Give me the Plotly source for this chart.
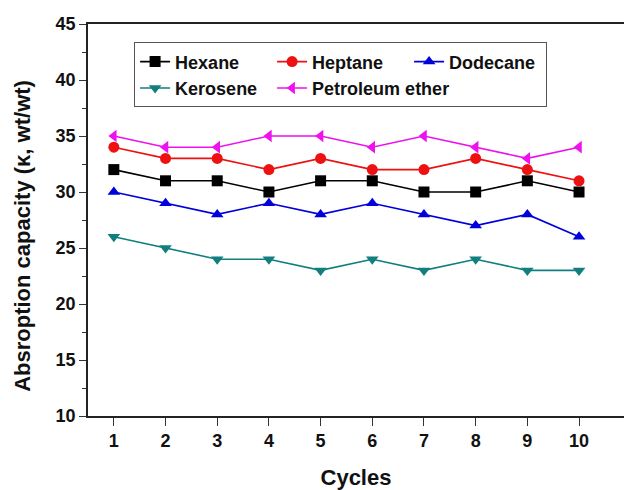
import plotly.graph_objects as go

cycles = [1, 2, 3, 4, 5, 6, 7, 8, 9, 10]
hexane = [32, 31, 31, 30, 31, 31, 30, 30, 31, 30]
heptane = [34, 33, 33, 32, 33, 32, 32, 33, 32, 31]
dodecane = [30, 29, 28, 29, 28, 29, 28, 27, 28, 26]
kerosene = [26, 25, 24, 24, 23, 24, 23, 24, 23, 23]
pet_ether = [35, 34, 34, 35, 35, 34, 35, 34, 33, 34]

series = [
    ("Hexane", hexane, "#000000", "square"),
    ("Heptane", heptane, "#ee1111", "circle"),
    ("Dodecane", dodecane, "#0000dd", "triangle-up"),
    ("Kerosene", kerosene, "#117f7f", "triangle-down"),
    ("Petroleum ether", pet_ether, "#ee11ee", "triangle-left"),
]

fig = go.Figure()
for name, vals, color, sym in series:
    fig.add_trace(go.Scatter(
        x=cycles, y=vals, name=name, mode="lines+markers",
        line=dict(color=color, width=1.6),
        marker=dict(symbol=sym, size=11, color=color),
    ))

font = "Liberation Sans, Arial, sans-serif"
fig.update_layout(
    width=624, height=490,
    margin=dict(l=88, r=0, t=24, b=74, autoexpand=False),
    plot_bgcolor="white", paper_bgcolor="white",
    font=dict(family=font, color="#111111"),
    showlegend=True,
    legend=dict(
        orientation="h", x=0.086, y=0.953, xanchor="left", yanchor="top",
        bgcolor="white", bordercolor="#555555", borderwidth=1,
        font=dict(family=font, size=18, color="#111111", weight="bold"),
        entrywidth=92, entrywidthmode="pixels",
        itemwidth=30, tracegroupgap=0,
    ),
    xaxis=dict(
        range=[0.5, 10.87], tickmode="array", tickvals=cycles,
        ticks="outside", ticklen=8, tickwidth=1.2, tickcolor="#333",
        showline=True, linecolor="#222", linewidth=1.5, mirror=True,
        showgrid=False, zeroline=False, automargin=False,
        tickfont=dict(family=font, size=18, color="#111", weight="bold"),
        title=dict(text="Cycles", standoff=20,
                   font=dict(family=font, size=22, color="#111", weight="bold")),
    ),
    yaxis=dict(
        range=[10, 45], tickmode="array", tickvals=[10, 15, 20, 25, 30, 35, 40, 45],
        ticks="outside", ticklen=7, tickwidth=1.2, tickcolor="#333",
        minor=dict(ticks="outside", ticklen=4, tickcolor="#333", dtick=2.5, tick0=10),
        showline=True, linecolor="#222", linewidth=1.5,
        showgrid=False, zeroline=False, automargin=False,
        tickfont=dict(family=font, size=18, color="#111", weight="bold"),
    ),
    annotations=[dict(
        text="Absroption capacity (κ, wt/wt)", textangle=-90,
        xref="paper", yref="paper", x=-0.121, y=0.46,
        xanchor="center", yanchor="middle", showarrow=False,
        font=dict(family=font, size=22, color="#111", weight="bold"),
    )],
)

fig.write_html("out.html")
